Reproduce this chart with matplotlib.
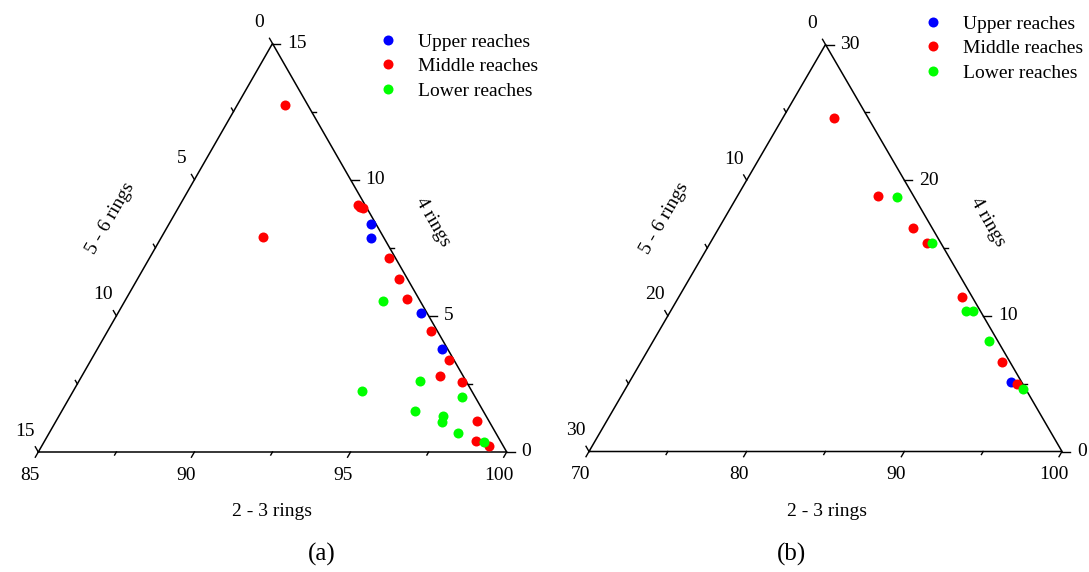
import numpy as np
import matplotlib.pyplot as plt

plt.rcParams['font.family'] = ['Liberation Serif', 'DejaVu Serif']

# ---- data (percent of 2-3 rings, 4 rings, 5-6 rings) ----
groups = ['Upper reaches', 'Middle reaches', 'Lower reaches']
colors = ['#0000ff', '#ff0000', '#00ff00']

# panel (a)
a_upper_23 = [91.47, 91.73, 94.69, 96.05]
a_upper_4 = [8.36, 7.86, 5.12, 3.78]
a_upper_56 = [0.17, 0.41, 0.19, 0.17]

a_middle_23 = [86.53, 90.71, 90.80, 90.92, 88.25, 92.67, 93.38, 93.99, 95.34,
               96.48, 96.46, 97.28, 98.47, 98.81, 99.33]
a_middle_4 = [12.74, 9.07, 9.00, 8.95, 7.91, 7.11, 6.35, 5.62, 4.45,
              3.37, 2.80, 2.57, 1.14, 0.42, 0.23]
a_middle_56 = [0.73, 0.22, 0.20, 0.13, 3.84, 0.22, 0.27, 0.39, 0.21,
               0.15, 0.74, 0.15, 0.39, 0.77, 0.44]

a_lower_23 = [93.27, 95.92, 94.25, 97.56, 96.31, 97.31, 97.39, 98.11, 99.09]
a_lower_4 = [5.56, 2.61, 2.25, 2.03, 1.52, 1.32, 1.10, 0.69, 0.38]
a_lower_56 = [1.17, 1.47, 3.50, 0.41, 2.17, 1.37, 1.51, 1.20, 0.53]

# panel (b)
b_upper_23 = [94.22]
b_upper_4 = [5.10]
b_upper_56 = [0.68]

b_middle_23 = [73.26, 78.89, 82.31, 83.78, 87.99, 92.87, 94.64]
b_middle_4 = [24.60, 18.83, 16.45, 15.35, 11.37, 6.62, 4.98]
b_middle_56 = [2.14, 2.28, 1.24, 0.87, 0.64, 0.51, 0.38]

b_lower_23 = [80.16, 84.08, 88.72, 89.19, 91.31, 95.20]
b_lower_4 = [18.78, 15.35, 10.38, 10.38, 8.17, 4.61]
b_lower_56 = [1.06, 0.57, 0.90, 0.43, 0.52, 0.19]

# axis ranges
a_min, a_rng = 85, 15
b_min, b_rng = 70, 30

FW, FH = 1089, 572
fig = plt.figure(figsize=(FW / 100, FH / 100), dpi=100)


def tern_xy(r23, r4, amin, rng):
    r23 = np.asarray(r23, dtype=float)
    r4 = np.asarray(r4, dtype=float)
    return (r23 - amin) / rng + r4 / (2 * rng), r4 / rng


def panel(box, amin, rng, data, legend_xy):
    # box = left, top, right, bottom of the triangle in pixels
    x0, top, x1, base = box
    W, H = x1 - x0, base - top
    ax = fig.add_axes([x0 / FW, 1 - base / FH, W / FW, H / FH])
    ax.set_xlim(0, 1)
    ax.set_ylim(0, 1)
    ax.axis('off')

    ax.plot([0, 1, 0.5, 0], [0, 0, 1, 0], color='black', lw=1.1,
            clip_on=False, solid_joinstyle='miter')

    def px(dx, dy):
        return dx / W, dy / H

    step = rng / 3
    vals = [i * step / 2 for i in range(7)]
    for k, v in enumerate(vals):
        major = k % 2 == 0
        # bottom axis (2-3 rings)
        bx, by = v / rng, 0
        L = 6 if major else 3.5
        dx, dy = px(-0.5 * L, -0.866 * L)
        ax.plot([bx, bx + dx], [by, by + dy], color='black', lw=1, clip_on=False)
        # right axis (4 rings)
        rx, ry = 1 - v / (2 * rng), v / rng
        L = 8 if major else 4
        dx, dy = px(L, 0)
        ax.plot([rx, rx + dx], [ry, ry + dy], color='black', lw=1, clip_on=False)
        # left axis (5-6 rings)
        lx, ly = (rng - v) / (2 * rng), (rng - v) / rng
        L = 6 if major else 4
        dx, dy = px(-0.5 * L, 0.866 * L)
        ax.plot([lx, lx + dx], [ly, ly + dy], color='black', lw=1, clip_on=False)
        if major:
            ax.annotate(f'{amin + v:g}', (bx, by), xytext=(-8, -23),
                        textcoords='offset pixels', ha='center', va='center',
                        fontsize=14)
            ax.annotate(f'{v:g}', (rx, ry), xytext=(15, 0),
                        textcoords='offset pixels', ha='left', va='center',
                        fontsize=14)
            ax.annotate(f'{v:g}', (lx, ly), xytext=(-13, 21),
                        textcoords='offset pixels', ha='center', va='center',
                        fontsize=14)

    handles = []
    for (r23, r4), name, col in zip(data, groups, colors):
        x, y = tern_xy(r23, r4, amin, rng)
        h, = ax.plot(x, y, 'o', color=col, ms=7.2, mec='none', clip_on=False,
                     label=name)
        handles.append(h)

    lx, ly = legend_xy
    ax.legend(handles=handles, loc='upper left',
              bbox_to_anchor=(lx / FW, 1 - ly / FH),
              bbox_transform=fig.transFigure, frameon=False, fontsize=14,
              handlelength=1.0, handletextpad=1.05, labelspacing=0.36,
              borderpad=0, borderaxespad=0, numpoints=1)
    return ax


panel((38.3, 43.5, 506.7, 452), a_min, a_rng,
      [(a_upper_23, a_upper_4), (a_middle_23, a_middle_4),
       (a_lower_23, a_lower_4)], (378.3, 33))
panel((589, 44.5, 1062, 451.5), b_min, b_rng,
      [(b_upper_23, b_upper_4), (b_middle_23, b_middle_4),
       (b_lower_23, b_lower_4)], (923, 15))


def ftext(x, y, s, **kw):
    fig.text(x / FW, 1 - y / FH, s, ha='center', va='center', **kw)


ftext(272, 511, '2 - 3 rings', fontsize=14)
ftext(827, 511, '2 - 3 rings', fontsize=14)
ftext(433, 222, '4 rings', fontsize=14, rotation=-60)
ftext(988, 222, '4 rings', fontsize=14, rotation=-60)
ftext(111, 218, '5 - 6 rings', fontsize=14, rotation=60)
ftext(665, 218, '5 - 6 rings', fontsize=14, rotation=60)
ftext(322, 554, '(a)', fontsize=18)
ftext(792, 554, '(b)', fontsize=18)

fig.savefig('out.png', dpi=100)
